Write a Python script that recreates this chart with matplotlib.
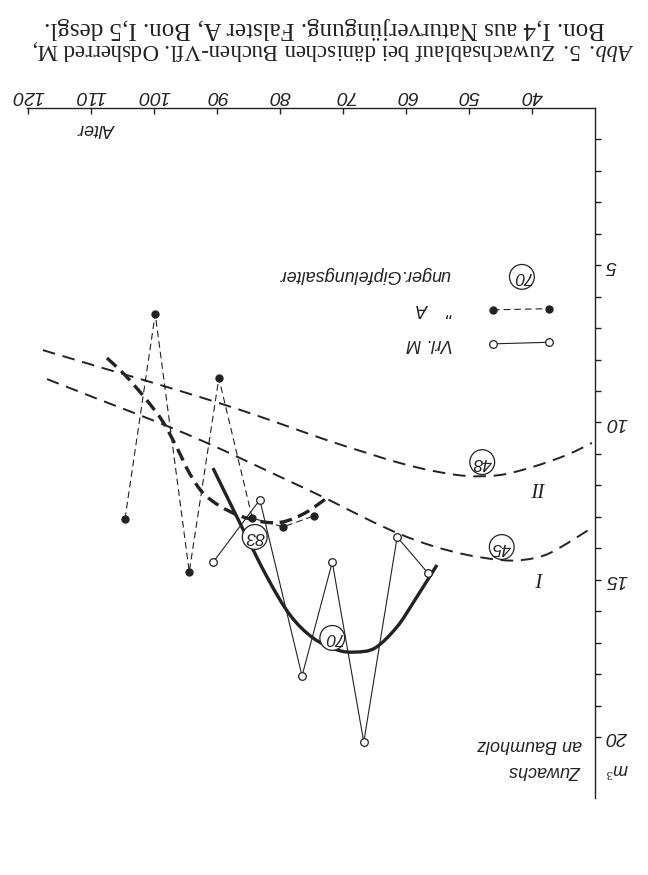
import matplotlib
matplotlib.use("Agg")
import matplotlib.pyplot as plt
from matplotlib.path import Path
from matplotlib.patches import PathPatch
import numpy as np

# ---------------- data (age in years, increment m3) ----------------
# Vrl. M  (thin solid, open circles)
m_age = [90.6, 83.2, 76.5, 71.7, 66.7, 61.4, 56.5]
m_val = [14.44, 12.46, 18.06, 14.44, 20.16, 13.64, 14.79]
# Vrl. A  (thin dashed, filled dots)
a_age = [104.6, 99.8, 94.4, 89.7, 84.4, 79.5, 74.6]
a_val = [13.07, 6.55, 14.75, 8.59, 13.04, 13.32, 12.97]
# smoothed curve M (thick solid, culmination 70)
mc_age = [90.63, 86.35, 82.06, 78.41, 74.76, 70.95, 68.10, 64.92, 61.43, 58.57, 55.08]
mc_val = [11.45, 13.20, 14.91, 16.12, 16.85, 17.23, 17.30, 17.17, 16.50, 15.64, 14.53]
# smoothed curve A (thick dashed, culmination 83)
ac_age = [107.46, 104.60, 101.43, 98.57, 96.19, 94.29, 92.22, 89.52, 86.35, 82.70, 79.52, 76.03, 72.54]
ac_val = [7.95, 8.49, 9.22, 9.98, 10.87, 11.64, 12.24, 12.66, 12.97, 13.16, 13.16, 12.88, 12.40]
# yield-table curve I (culmination 45)
c1_age = [116.98, 108.57, 99.05, 91.59, 86.35, 78.89, 72.54, 66.19, 60.95, 55.71, 50.32, 45.08, 41.43, 37.14, 30.48]
c1_val = [8.62, 9.28, 10.02, 10.65, 11.13, 11.83, 12.43, 13.07, 13.55, 13.93, 14.21, 14.37, 14.37, 14.15, 13.35]
# yield-table curve II (culmination 48)
c2_age = [117.62, 111.27, 105.40, 100.63, 90.63, 82.06, 73.17, 66.19, 60.95, 55.71, 50.32, 45.08, 39.84, 34.44, 30.48]
c2_val = [7.70, 8.08, 8.43, 8.71, 9.32, 9.89, 10.52, 10.97, 11.29, 11.54, 11.70, 11.67, 11.41, 11.03, 10.65]

x_ticks = [40, 50, 60, 70, 80, 90, 100, 110, 120]
y_ticks = [5, 10, 15, 20]

INK = "#222222"
plt.rcParams['font.family'] = ['Liberation Sans Narrow', 'Liberation Sans', 'DejaVu Sans']
plt.rcParams['mathtext.fontset'] = 'custom'
plt.rcParams['mathtext.it'] = 'Liberation Serif:italic'
plt.rcParams['mathtext.rm'] = 'Liberation Serif'


def smooth_path(x, y):
    """Smooth Bezier path through the given knots (Catmull-Rom style)."""
    P = np.column_stack([x, y]).astype(float)
    n = len(P)
    verts = [P[0]]
    codes = [Path.MOVETO]
    for i in range(n - 1):
        p0 = P[i - 1] if i > 0 else P[i]
        p1, p2 = P[i], P[i + 1]
        p3 = P[i + 2] if i + 2 < n else P[i + 1]
        verts += [p1 + (p2 - p0) / 6.0, p2 - (p3 - p1) / 6.0, p2]
        codes += [Path.CURVE4] * 3
    return Path(verts, codes)


fig = plt.figure(figsize=(6.48, 8.75), dpi=100)
ax = fig.add_axes([0.0412, 0.088, 0.877, 0.7886])
ax.set_xlim(120.2, 30)
ax.set_ylim(21.94, 0)

for s in ['left', 'bottom']:
    ax.spines[s].set_visible(False)
for s in ['top', 'right']:
    ax.spines[s].set_linewidth(1.0)
    ax.spines[s].set_color(INK)

ax.xaxis.tick_top()
ax.yaxis.tick_right()
ax.set_xticks(x_ticks)
ax.set_xticklabels([str(v) for v in x_ticks])
ax.set_yticks(y_ticks)
ax.set_yticklabels([str(v) for v in y_ticks])
ax.set_yticks(list(range(1, 21)), minor=True)
ax.tick_params(axis='x', direction='in', length=4, width=1, colors=INK,
               labelrotation=180, pad=3, labelsize=14)
ax.tick_params(axis='y', which='both', direction='out', length=4, width=1,
               colors=INK, labelrotation=180, pad=4, labelsize=14)
for lab in ax.get_xticklabels() + ax.get_yticklabels():
    lab.set_fontstyle('italic')
for lab in ax.get_yticklabels():
    lab.set_va('center')

kw = dict(clip_on=False, color=INK)
# yield table curves (smooth)
for xs, ys in [(c1_age, c1_val), (c2_age, c2_val)]:
    ax.add_patch(PathPatch(smooth_path(xs, ys), fill=False, ec=INK, lw=1.4,
                           linestyle=(0, (6.5, 4)), clip_on=False))
# smoothed observation curves
ax.add_patch(PathPatch(smooth_path(mc_age, mc_val), fill=False, ec=INK, lw=2.4,
                       clip_on=False, capstyle='butt'))
ax.add_patch(PathPatch(smooth_path(ac_age, ac_val), fill=False, ec=INK, lw=2.4,
                       linestyle=(0, (3.8, 2.0)), clip_on=False))
# observed series
ax.plot(m_age, m_val, lw=0.8, marker='o', ms=5.5, mfc='white', mec=INK, mew=0.9, **kw)
ax.plot(a_age, a_val, lw=0.8, dashes=(6, 3.6), marker='o', ms=5, mfc=INK, mec=INK, **kw)

# legend (drawn inside the chart, as in the original)
ax.plot([46.2, 37.3], [7.5, 7.45], lw=0.8, marker='o', ms=5.5, mfc='white', mec=INK, mew=0.9, **kw)
ax.plot([46.2, 37.3], [6.42, 6.38], lw=0.8, dashes=(6, 3.6), marker='o', ms=5, mfc=INK, mec=INK, **kw)
tkw = dict(rotation=180, color=INK, style='italic', fontsize=13)
ax.text(56.2, 7.5, "Vrl. M", ha='center', va='center', **tkw)
ax.text(55.6, 6.36, '"    A', ha='center', va='center', **tkw)
ax.text(66.5, 5.31, "unger.Gipfelungsalter", ha='center', va='center', **tkw)

ckw = dict(rotation=180, color=INK, style='italic', fontsize=12.5, ha='center', va='center',
           bbox=dict(boxstyle='circle,pad=0.16', fc='white', ec=INK, lw=0.9))
ax.text(41.6, 5.37, "70", **ckw)
ax.text(47.9, 11.26, "48", **ckw)
ax.text(44.8, 13.96, "45", **ckw)
ax.text(84.0, 13.64, "83", **ckw)
ax.text(71.7, 16.85, "70", **ckw)

skw = dict(rotation=180, color=INK, family=['Liberation Serif', 'DejaVu Serif'],
           style='italic', fontsize=15, ha='center', va='center')
ax.text(38.9, 12.05, "II", **skw)
ax.text(38.7, 14.9, "I", **skw)

# axis labels
ax.text(109.0, 0.64, "Alter", ha='center', va='center', **tkw)
ax.text(32.1, 21.08, "Zuwachs", ha='right', va='center', clip_on=False, **tkw)
ax.text(32.1, 20.25, "an Baumholz", ha='right', va='center', clip_on=False, **tkw)
ax.text(26.5, 21.0, "m$^3$", ha='center', va='center', clip_on=False, **tkw)

# caption (upside down, like the scanned page)
cap_kw = dict(rotation=180, color=INK, family=['Liberation Serif', 'DejaVu Serif'],
              ha='center', va='center')
fig.text(333 / 648, 1 - 50 / 875,
         r"$\it{Abb.\ 5.}$ Zuwachsablauf bei dänischen Buchen-Vfl. Odsherred M,",
         fontsize=16.5, **cap_kw)
fig.text(325 / 648, 1 - 28 / 875,
         "Bon. I,4 aus Naturverjüngung. Falster A, Bon. I,5 desgl.",
         fontsize=18, **cap_kw)

fig.savefig("out.png", dpi=100)
